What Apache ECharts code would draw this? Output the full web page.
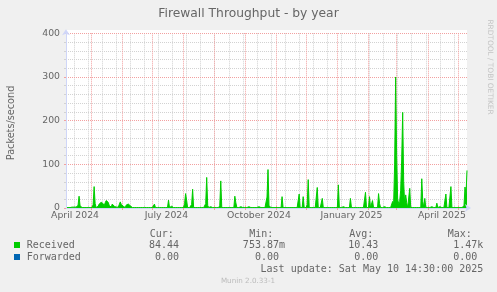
<!DOCTYPE html>
<html><head><meta charset="utf-8">
<script src="https://cdn.jsdelivr.net/npm/echarts@6/dist/echarts.min.js"></script>
<style>html,body{margin:0;padding:0;background:#f0f0f0}#c{width:497px;height:292px}</style>
</head><body><div id="c"></div>
<script>
const titleText = 'Firewall Throughput - by year';
const yAxisName = 'Packets/second';
const startDate = '2024-04-06';
// daily values (packets/second), one per day from startDate
const received = [
1,1,1,1,1,2,2,2,2,2,2,2,6,27,5,1,1,1,1,1,
1,1,1,1,1,1,1,8,49,10,1,1,4,9,12,13,13,10,5,12,
17,16,13,6,2,2,9,8,4,2,2,2,2,2,14,8,9,4,1,1,
7,9,9,8,5,2,1,1,1,1,1,3,1,1,1,1,1,1,1,1,
1,1,1,1,1,1,1,5,9,1,1,1,1,1,1,1,3,1,1,1,
1,1,18,1,1,4,1,1,1,1,1,1,3,1,1,1,1,1,10,33,
18,1,1,1,1,8,43,1,1,1,3,1,1,1,1,1,1,1,1,10,
70,6,1,1,3,1,1,1,1,1,1,1,1,6,62,1,1,1,1,1,
1,1,1,1,1,1,1,1,27,12,1,1,1,1,3,1,1,1,1,1,
1,1,3,1,1,1,1,3,1,1,1,1,3,1,1,1,1,1,1,1,
25,88,5,1,1,1,1,1,1,3,1,1,1,3,1,26,1,1,1,1,
1,1,1,1,1,1,1,1,1,1,1,1,32,1,1,1,26,1,1,1,
8,65,1,1,1,1,1,1,1,1,47,1,1,1,1,22,1,1,1,1,
1,1,1,1,1,1,1,1,1,1,1,53,1,1,1,1,3,3,1,1,
1,1,1,22,1,1,1,1,1,1,1,1,1,1,1,1,1,1,36,1,
1,1,26,1,1,17,1,1,1,1,1,33,10,1,1,1,1,3,1,1,
3,1,1,1,1,15,10,100,300,120,20,10,15,40,110,219,60,8,30,12,
1,1,45,1,1,1,1,1,1,1,1,1,1,1,67,15,1,22,1,1,
1,1,1,1,3,1,1,1,1,11,1,1,3,1,1,1,1,1,32,1,
1,1,1,49,1,1,1,1,1,1,1,1,1,1,1,1,5,48,30,86
];
const yMin = 0, yMax = 400, yMajor = 100, yMinor = 20;
const tickDates = ['2024-04-15','2024-07-15','2024-10-15','2025-01-15','2025-04-15'];
const tickLabels = ['April 2024','July 2024','October 2024','January 2025','April 2025'];
const firstMinorGridDate = '2024-04-14';
const legendNames = ['Received','Forwarded'];
const legendColors = ['#00cc00','#0066b3'];
const legendHeaders = ['Cur:','Min:','Avg:','Max:'];
const curValues = ['84.44','0.00'];
const minValues = ['753.87m','0.00'];
const avgValues = ['10.43','0.00'];
const maxValues = ['1.47k','0.00'];
const lastUpdate = 'Last update: Sat May 10 14:30:00 2025';
const footer = 'Munin 2.0.33-1';
const watermark = 'RRDTOOL / TOBI OETIKER';

const DAY = 86400000;
const t0 = Date.parse(startDate + 'T00:00:00Z');
const dates = received.map((_, i) => new Date(t0 + i * DAY).toISOString().slice(0, 10));
const minorStart = (Date.parse(firstMinorGridDate + 'T00:00:00Z') - t0) / DAY;
const isMonthStart = (i, v) => v.slice(8) === '01';
const isMinor = (i) => i >= minorStart && (i - minorStart) % 14 === 0;
const isTick = (i, v) => tickDates.indexOf(v) >= 0;

const TXT = '#666666';
const AXIS = '#cfd6f8';
const MGRID = '#f2a0a0';
const GRID = '#d2d2d2';
const SANS = 'DejaVu Sans';
const MONO = 'DejaVu Sans Mono';

const chart = echarts.init(document.getElementById('c'), null, {renderer: 'canvas'});

const els = [];
els.push({type: 'rect', z: -10, shape: {x: 66, y: 30, width: 401, height: 178}, style: {fill: '#ffffff'}});
els.push({type: 'text', z: 10, x: 248.5, y: 14, style: {text: titleText, font: '12.3px "' + SANS + '"', fill: TXT, align: 'center', verticalAlign: 'middle', textAlign: 'center', textVerticalAlign: 'middle'}});
els.push({type: 'text', z: 10, x: 11, y: 123, rotation: Math.PI / 2, style: {text: yAxisName, font: '9.7px "' + SANS + '"', fill: TXT, align: 'center', verticalAlign: 'middle', textAlign: 'center', textVerticalAlign: 'middle'}});
els.push({type: 'text', z: 10, x: 490, y: 67, rotation: -Math.PI / 2, style: {text: watermark, font: '7.4px "' + SANS + '"', fill: '#c4c4c4', align: 'center', verticalAlign: 'middle', textAlign: 'center', textVerticalAlign: 'middle'}});
const headerLeft = [149.7, 249.3, 349.3, 447.7];
legendHeaders.forEach((h, k) => els.push({type: 'text', z: 10, x: headerLeft[k], y: 234, style: {text: h, font: '10px "' + MONO + '"', fill: TXT, align: 'left', verticalAlign: 'middle', textAlign: 'left', textVerticalAlign: 'middle'}}));
const rowY = [245, 257];
const colRight = [[179, 179], [285, 279], [378.3, 378.3], [483.3, 477.3]];
const cols = [curValues, minValues, avgValues, maxValues];
legendNames.forEach((n, r) => {
  els.push({type: 'rect', z: 10, shape: {x: 14, y: rowY[r] - 3, width: 6, height: 6}, style: {fill: legendColors[r]}});
  els.push({type: 'text', z: 10, x: 26.7, y: rowY[r], style: {text: n, font: '10px "' + MONO + '"', fill: TXT, align: 'left', verticalAlign: 'middle', textAlign: 'left', textVerticalAlign: 'middle'}});
  cols.forEach((c, k) => els.push({type: 'text', z: 10, x: colRight[k][r], y: rowY[r], style: {text: c[r], font: '10px "' + MONO + '"', fill: TXT, align: 'right', verticalAlign: 'middle', textAlign: 'right', textVerticalAlign: 'middle'}}));
});
els.push({type: 'text', z: 10, x: 483.3, y: 269.7, style: {text: lastUpdate, font: '10px "' + MONO + '"', fill: TXT, align: 'right', verticalAlign: 'middle', textAlign: 'right', textVerticalAlign: 'middle'}});
els.push({type: 'text', z: 10, x: 248, y: 281, style: {text: footer, font: '7.2px "' + SANS + '"', fill: '#bbbbbb', align: 'center', verticalAlign: 'middle', textAlign: 'center', textVerticalAlign: 'middle'}});

chart.setOption({
  animation: false,
  backgroundColor: '#f0f0f0',
  grid: {left: 66, right: 30, top: 33.3, bottom: 84, containLabel: false},
  graphic: {elements: els},
  xAxis: [
    {type: 'category', data: dates, boundaryGap: false, position: 'bottom', z: 3,
     axisLine: {show: true, lineStyle: {color: AXIS, width: 1}, symbol: ['none', 'arrow'], symbolSize: [6, 6], symbolOffset: [0, 4]},
     axisTick: {show: true, interval: isMonthStart, length: 2, lineStyle: {color: MGRID}},
     axisLabel: {show: true, interval: isTick, formatter: v => tickLabels[tickDates.indexOf(v)] || '', fontFamily: SANS, fontSize: 9.3, color: TXT, margin: 3},
     splitLine: {show: false}},
    {type: 'category', data: dates, boundaryGap: false, position: 'top', z: 1,
     axisLine: {show: false}, axisLabel: {show: false},
     axisTick: {show: true, interval: isMonthStart, length: 2, lineStyle: {color: MGRID}},
     splitLine: {show: true, interval: isMonthStart, lineStyle: {color: MGRID, type: [1, 1], width: 1}}},
    {type: 'category', data: dates, boundaryGap: false, position: 'top', z: 0,
     axisLine: {show: false}, axisLabel: {show: false},
     axisTick: {show: true, interval: isMinor, length: 2, lineStyle: {color: GRID}},
     splitLine: {show: true, interval: isMinor, lineStyle: {color: GRID, type: [1, 1], width: 1}}}
  ],
  yAxis: [
    {type: 'value', min: yMin, max: yMax, interval: yMajor, position: 'left', z: 3,
     axisLine: {show: true, lineStyle: {color: AXIS, width: 1}, symbol: ['none', 'arrow'], symbolSize: [6, 6], symbolOffset: [0, 4]},
     axisTick: {show: true, length: 2, lineStyle: {color: MGRID}},
     axisLabel: {fontFamily: SANS, fontSize: 9.3, color: TXT, margin: 6},
     splitLine: {show: false}},
    {type: 'value', min: yMin, max: yMax, interval: yMajor, position: 'left', z: 1,
     axisLine: {show: false}, axisTick: {show: false}, axisLabel: {show: false},
     splitLine: {show: true, lineStyle: {color: MGRID, type: [1, 1], width: 1}}},
    {type: 'value', min: yMin, max: yMax, interval: yMinor, position: 'left', z: 0,
     axisLine: {show: false}, axisLabel: {show: false},
     axisTick: {show: true, length: 2, lineStyle: {color: GRID}},
     splitLine: {show: true, lineStyle: {color: GRID, type: [1, 1], width: 1}}}
  ],
  series: [{
    name: legendNames[0], type: 'line', xAxisIndex: 0, yAxisIndex: 0, data: received,
    showSymbol: false, symbol: 'none', z: 2,
    lineStyle: {width: 1, color: legendColors[0]},
    areaStyle: {color: legendColors[0], opacity: 1}
  }]
});
</script></body></html>
